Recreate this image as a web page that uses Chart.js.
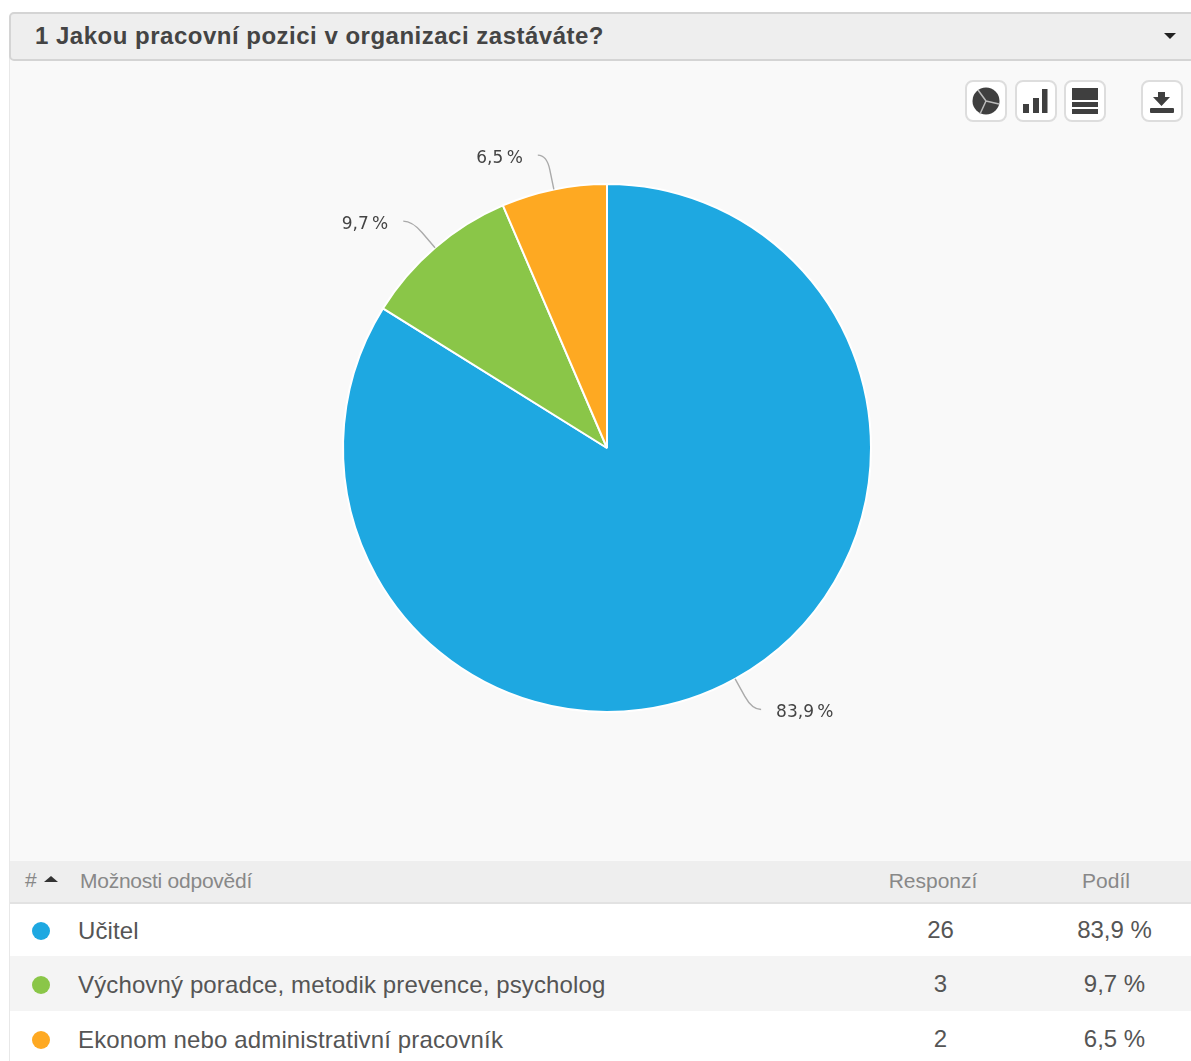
<!DOCTYPE html>
<html lang="cs">
<head>
<meta charset="utf-8">
<title>Jakou pracovní pozici v organizaci zastáváte?</title>
<script src="https://cdn.jsdelivr.net/npm/chart.js@4"></script>
<style>
    html, body { margin: 0; padding: 0; background: #fff; }
    #page { position: relative; width: 1191px; height: 1061px; overflow: hidden; font-family: "Liberation Sans", Arial, sans-serif; color: #555; }
    #panel { position: absolute; left: 9px; top: 40px; width: 1182px; height: 1021px; background: #f9f9f9; border-left: 1px solid #e8e8e8; box-sizing: border-box; }
    #head { position: absolute; left: 9px; top: 12px; width: 1190px; height: 49px; box-sizing: border-box; background: #eee; border: 2px solid #d4d4d4; border-radius: 5px; }
    #title { position: absolute; left: 35px; top: 20px; font-size: 24px; line-height: 32px; font-weight: bold; letter-spacing: 0.5px; color: #444; white-space: nowrap; }
    #caret { position: absolute; left: 1164px; top: 33px; width: 0; height: 0; border-left: 6px solid transparent; border-right: 6px solid transparent; border-top: 6px solid #222; }
    .btn { position: absolute; top: 80px; width: 42px; height: 42px; box-sizing: border-box; background: #fff; border: 2px solid #ddd; border-radius: 8px; }
    .btn svg { position: absolute; left: 0; top: 0; }
    #chart { position: absolute; left: 0; top: 62px; }
    #rows { position: absolute; left: 10px; top: 861px; width: 1181px; border-collapse: collapse; table-layout: fixed; font-size: 24px; }
    #rows th { height: 39px; padding: 0 0 2px 0; background: #eee; border-bottom: 2px solid #e2e2e2; font-weight: normal; color: #888; font-size: 21px; }
    #rows td { padding: 0; }
    #rows tr.odd td { background: #fff; }
    #rows tr.even td { background: #f4f4f4; }
    #rows td.name { position: relative; text-align: left; padding: 2px 0 0 68px; letter-spacing: 0.13px; }
    #rows th.name { text-align: left; padding-left: 70px; letter-spacing: -0.25px; }
    #rows .dot { position: absolute; left: 22px; top: calc(50% - 8px); width: 18px; height: 18px; border-radius: 50%; }
    #rows .num { text-align: center; }
    #rows th.resp { padding-right: 15px; }
    #rows th.share { padding-right: 20px; }
    #rows td.share { padding-right: 3px; }
    #hash { position: absolute; left: 25px; top: 866px; font-size: 21px; line-height: 28px; color: #888; }
    #sort { position: absolute; left: 44px; top: 876px; width: 0; height: 0; border-left: 7px solid transparent; border-right: 7px solid transparent; border-bottom: 6px solid #333; }
</style>
</head>
<body>
<div id="page">
    <div id="panel"></div>
    <div id="head"></div>
    <div id="title">1 Jakou pracovní pozici v organizaci zastáváte?</div>
    <div id="caret"></div>

    <div class="btn" style="left:965px"><svg width="38" height="38" viewBox="0 0 38 38">
        <circle cx="19" cy="19" r="13.5" fill="#3f3f3f"/>
        <path d="M19 19 L11 8 M19 19 L32 22 M19 19 L13 32" stroke="#bbb" stroke-width="1.5" fill="none"/>
    </svg></div>
    <div class="btn" style="left:1015px"><svg width="38" height="38" viewBox="0 0 38 38" fill="#3f3f3f">
        <rect x="6" y="22" width="6" height="9"/><rect x="16" y="16" width="6" height="15"/><rect x="25" y="7" width="5.5" height="24"/>
    </svg></div>
    <div class="btn" style="left:1064px"><svg width="38" height="38" viewBox="0 0 38 38" fill="#3f3f3f">
        <rect x="6" y="6" width="26" height="12"/><rect x="6" y="20" width="26" height="5"/><rect x="6" y="27" width="26" height="5"/>
    </svg></div>
    <div class="btn" style="left:1141px"><svg width="38" height="38" viewBox="0 0 38 38" fill="#3f3f3f">
        <path d="M15 10 H22 V15 H27 L18.5 24 L10 15 H15 Z"/><rect x="7" y="26" width="24" height="5" rx="1"/>
    </svg></div>

    <canvas id="chart" width="1191" height="772"></canvas>

    <table id="rows">
        <colgroup><col style="width:830px"><col style="width:201px"><col style="width:150px"></colgroup>
        <thead><tr><th class="name">Možnosti odpovědí</th><th class="num resp">Responzí</th><th class="num share">Podíl</th></tr></thead>
        <tbody id="rowsBody"></tbody>
    </table>
    <div id="hash">#</div>
    <div id="sort"></div>
</div>

<script>
const categories = ["Učitel", "Výchovný poradce, metodik prevence, psycholog", "Ekonom nebo administrativní pracovník"];
const responses = [26, 3, 2];
const shares = ["83,9 %", "9,7 %", "6,5 %"];
const sliceColors = ["#1ea8e1", "#8ac648", "#fea922"];
const rowHeights = [53, 55, 55];

/* --------------------------
   RESULT TABLE
--------------------------- */
function fillTable(){
    const body = document.getElementById("rowsBody");
    categories.forEach(function(name, i){
        const tr = document.createElement("tr");
        tr.className = i % 2 ? "even" : "odd";
        tr.style.height = rowHeights[i] + "px";
        tr.innerHTML =
            '<td class="name"><span class="dot" style="background:' + sliceColors[i] + '"></span>' + name + '</td>' +
            '<td class="num">' + responses[i] + '</td>' +
            '<td class="num share">' + shares[i] + '</td>';
        body.appendChild(tr);
    });
}

/* --------------------------
   SLICE LABELS WITH LEADERS
--------------------------- */
const sliceLabels = {
    id: "sliceLabels",
    afterDatasetsDraw(chart){
        const ctx = chart.ctx;
        chart.getDatasetMeta(0).data.forEach(function(arc, i){
            const p = arc.getProps(["x", "y", "startAngle", "endAngle", "outerRadius"], true);
            const mid = (p.startAngle + p.endAngle) / 2;
            const dx = Math.cos(mid), dy = Math.sin(mid);
            const side = dx < 0 ? -1 : 1;
            const bendX = p.x + dx * (p.outerRadius + 35);
            const bendY = p.y + dy * (p.outerRadius + 35);
            const endX = bendX + side * 9;

            ctx.save();
            ctx.strokeStyle = "#aaa";
            ctx.lineWidth = 1.4;
            ctx.beginPath();
            ctx.moveTo(p.x + dx * p.outerRadius, p.y + dy * p.outerRadius);
            ctx.lineTo(p.x + dx * (p.outerRadius + 20), p.y + dy * (p.outerRadius + 20));
            ctx.quadraticCurveTo(bendX, bendY, endX, bendY);
            ctx.stroke();

            // thin space keeps the percent sign close to the number
            ctx.font = '17px "DejaVu Sans"';
            ctx.fillStyle = "#444";
            ctx.textBaseline = "middle";
            ctx.textAlign = side < 0 ? "right" : "left";
            ctx.fillText(shares[i].replace(" ", "\u2009"), endX + side * 15, bendY + 3);
            ctx.restore();
        });
    }
};

/* --------------------------
   PIE
--------------------------- */
function loadChart(){
    new Chart(document.getElementById("chart"), {
        type: "pie",
        data: {
            labels: categories,
            datasets: [{
                data: responses,
                backgroundColor: sliceColors,
                borderColor: "#fff",
                borderWidth: 2,
                radius: 264
            }]
        },
        options: {
            responsive: false,
            animation: false,
            layout: { padding: { left: 23 } },
            plugins: { legend: { display: false }, tooltip: { enabled: false } }
        },
        plugins: [sliceLabels]
    });
}

fillTable();
loadChart();
</script>
</body>
</html>
